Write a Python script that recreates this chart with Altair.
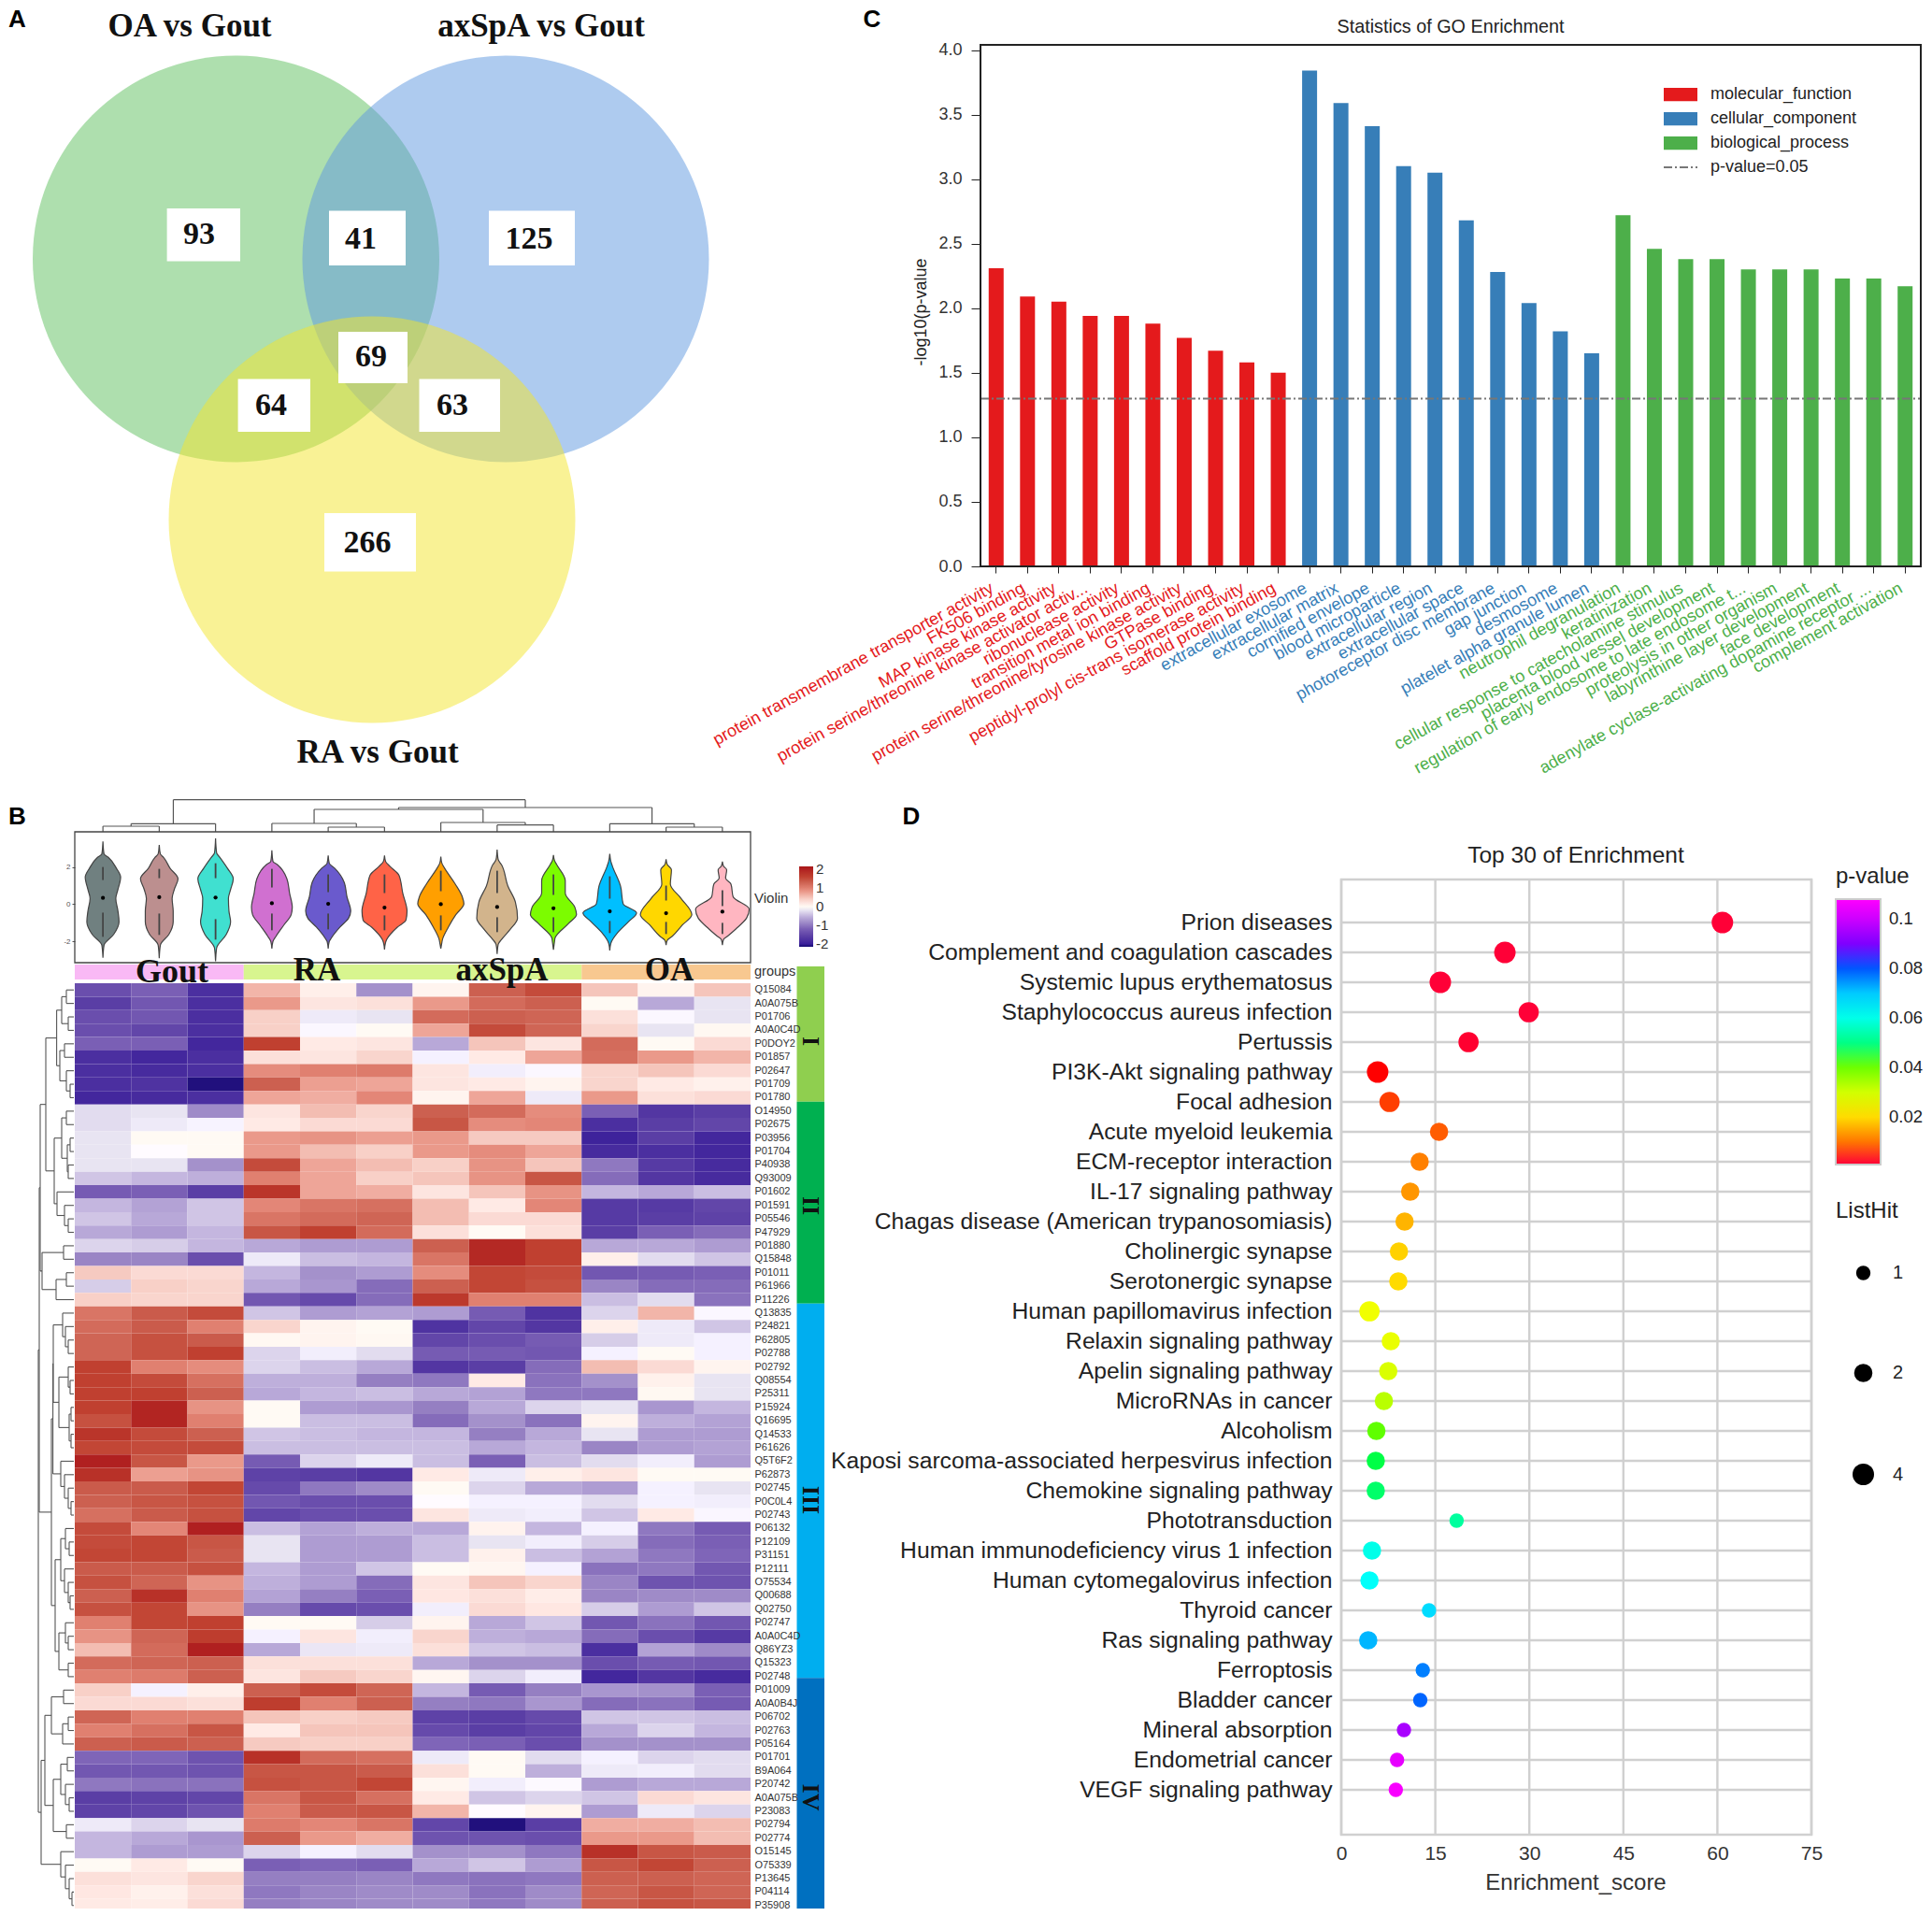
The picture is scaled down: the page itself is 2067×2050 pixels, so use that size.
import json
import altair as alt
import pandas as pd

W, H = 2051, 2034
SANS = "Liberation Sans"
SERIF = "Liberation Serif"

# ---------- A: Venn ----------
venn_sets = ["OA vs Gout", "axSpA vs Gout", "RA vs Gout"]
venn_cx = [252.5, 541, 398]
venn_cy = [277, 277, 556]
venn_colors = ["#5dbf5d", "#5d97df", "#f3e52b"]
venn_counts = [93, 41, 125, 69, 64, 63, 266]

# ---------- C: GO bars ----------
go_mf = ["protein transmembrane transporter activity", "FK506 binding", "MAP kinase kinase activity",
         "protein serine/threonine kinase activator activ...", "ribonuclease activity", "transition metal ion binding",
         "protein serine/threonine/tyrosine kinase activity", "GTPase binding",
         "peptidyl-prolyl cis-trans isomerase activity", "scaffold protein binding"]
go_cc = ["extracellular exosome", "extracellular matrix", "cornified envelope", "blood microparticle",
         "extracellular region", "extracellular space", "photoreceptor disc membrane", "gap junction",
         "desmosome", "platelet alpha granule lumen"]
go_bp = ["neutrophil degranulation", "keratinization", "cellular response to catecholamine stimulus",
         "placenta blood vessel development", "regulation of early endosome to late endosome t...",
         "proteolysis in other organism", "labyrinthine layer development", "face development",
         "adenylate cyclase-activating dopamine receptor ...", "complement activation"]
go_mf_v = [2.31, 2.09, 2.05, 1.94, 1.94, 1.88, 1.77, 1.67, 1.58, 1.50]
go_cc_v = [3.84, 3.59, 3.41, 3.10, 3.05, 2.68, 2.28, 2.04, 1.82, 1.65]
go_bp_v = [2.72, 2.46, 2.38, 2.38, 2.30, 2.30, 2.30, 2.23, 2.23, 2.17]
go_groups = ["molecular_function", "cellular_component", "biological_process"]
go_colors = ["#e41a1c", "#377eb8", "#4daf4a"]

# ---------- D: KEGG dots ----------
kegg_names = ["Prion diseases", "Complement and coagulation cascades", "Systemic lupus erythematosus",
              "Staphylococcus aureus infection", "Pertussis", "PI3K-Akt signaling pathway", "Focal adhesion",
              "Acute myeloid leukemia", "ECM-receptor interaction", "IL-17 signaling pathway",
              "Chagas disease (American trypanosomiasis)", "Cholinergic synapse", "Serotonergic synapse",
              "Human papillomavirus infection", "Relaxin signaling pathway", "Apelin signaling pathway",
              "MicroRNAs in cancer", "Alcoholism", "Kaposi sarcoma-associated herpesvirus infection",
              "Chemokine signaling pathway", "Phototransduction", "Human immunodeficiency virus 1 infection",
              "Human cytomegalovirus infection", "Thyroid cancer", "Ras signaling pathway", "Ferroptosis",
              "Bladder cancer", "Mineral absorption", "Endometrial cancer", "VEGF signaling pathway"]
kegg_score = [60.8, 26.1, 15.8, 29.9, 20.3, 5.8, 7.7, 15.6, 12.5, 11.0, 10.1, 9.2, 9.1, 4.5, 7.9,
              7.5, 6.8, 5.6, 5.5, 5.5, 18.4, 4.9, 4.5, 14.0, 4.3, 13.0, 12.6, 10.0, 8.9, 8.7]
kegg_p = [.001, .001, .001, .001, .0015, .004, .006, .008, .011, .013, .016, .019, .02, .026, .027,
          .029, .033, .041, .046, .048, .052, .06, .063, .068, .072, .077, .079, .095, .104, .107]
kegg_hit = [4, 4, 4, 3, 3, 4, 3, 2, 2, 2, 2, 2, 2, 3, 2, 2, 2, 2, 2, 2, 1, 2, 2, 1, 2, 1, 1, 1, 1, 1]
p_stops = [.0009, .004, .024, .044, .064, .083, .108]
p_colors = ["#ff0038", "#ff0000", "#ffff00", "#00ff00", "#00ffff", "#0000ff", "#ff00ff"]

# ---------- B: heatmap ----------
col_names = ["Gout1", "Gout2", "Gout3", "RA1", "RA2", "RA3", "axSpA1", "axSpA2", "axSpA3", "OA1", "OA2", "OA3"]
row_names = ["Q15084", "A0A075B", "P01706", "A0A0C4D", "P0DOY2", "P01857", "P02647", "P01709", "P01780",
             "O14950", "P02675", "P03956", "P01704", "P40938", "Q93009", "P01602", "P01591", "P05546", "P47929",
             "P01880", "Q15848", "P01011", "P61966", "P11226",
             "Q13835", "P24821", "P62805", "P02788", "P02792", "Q08554", "P25311", "P15924", "Q16695", "Q14533",
             "P61626", "Q5T6F2", "P62873", "P02745", "P0C0L4", "P02743", "P06132", "P12109", "P31151", "P12111",
             "O75534", "Q00688", "Q02750", "P02747", "A0A0C4D", "Q86YZ3", "Q15323", "P02748",
             "P01009", "A0A0B4J", "P06702", "P02763", "P05164", "P01701", "B9A064", "P20742", "A0A075B", "P23083",
             "P02794", "P02774", "O15145", "O75339", "P13645", "P04114", "P35908"]
heat_values = [
    [-1.4, -1.2, -1.8, .6, .1, -.8, .05, 1.3, 1.5, .5, .05, .5],
    [-1.6, -1.3, -1.8, .8, .2, .25, .8, 1.2, 1.3, 0, -.6, -.2],
    [-1.4, -1.3, -1.8, .4, -.15, -.2, 1.2, 1.3, 1.25, .25, -.05, -.2],
    [-1.4, -1.5, -1.8, .4, -.05, 0, .7, 1.5, 1.25, .35, -.2, .02],
    [-1.2, -1.2, -1.9, 1.6, .15, .2, -.6, .5, .2, 1.2, 0, .3],
    [-1.8, -1.9, -1.8, .25, .2, .35, -.1, .15, .7, 1.15, .8, .6],
    [-1.8, -1.85, -1.8, .9, 1.0, 1.05, .2, -.12, -.05, .35, .5, .3],
    [-1.8, -1.75, -2.1, 1.3, .75, .7, .2, .15, .05, .35, .15, .08],
    [-1.9, -1.85, -1.8, .7, .65, .95, .05, .7, -.15, .8, .25, .3],
    [-.25, -.2, -.85, .2, .55, .35, 1.3, 1.2, .9, -1.2, -1.7, -1.6],
    [-.25, -.15, -.08, .15, .3, .3, 1.4, .9, .95, -1.8, -1.6, -1.5],
    [-.2, 0, 0, .8, .85, .75, .8, .45, .45, -1.95, -1.6, -1.9],
    [-.2, -.02, 0, .8, .55, .4, .8, .9, .7, -1.85, -1.8, -1.9],
    [-.2, -.2, -.8, 1.5, .7, .55, .4, .85, .5, -1, -1.65, -1.85],
    [-.4, -.5, -.55, 1.0, .7, .4, .5, .85, 1.4, -1.1, -1.7, -1.85],
    [-1.25, -1.2, -1.6, 1.75, .7, .65, .2, .5, .85, -.5, -.6, -.45],
    [-.5, -.65, -.4, .95, 1.1, 1.15, .55, .15, .95, -1.65, -1.65, -1.5],
    [-.4, -.6, -.4, 1.1, 1.2, 1.25, .55, .3, .3, -1.65, -1.6, -1.55],
    [-.6, -.7, -.5, 1.4, 1.6, 1.2, .25, 0, .25, -1.6, -1.2, -1.1],
    [-.3, -.35, -.5, -.6, -.7, -.7, 1.3, 1.9, 1.6, -.6, -.6, -.7],
    [-.9, -.9, -1.4, -.15, -.45, -.5, 1.1, 1.9, 1.6, .1, -.25, -.4],
    [.45, .3, .3, -.5, -.8, -.7, .9, 1.55, 1.5, -1.3, -1.25, -1.2],
    [-.35, .4, .35, -.6, -.75, -1.1, 1.3, 1.55, 1.45, -.9, -1.1, -1.1],
    [.4, .35, .35, -1.3, -1.45, -1.1, 1.7, 1.0, 1.0, -.45, -.25, -1.05],
    [1.1, 1.35, 1.5, -.4, -.7, -.65, -.7, -1.25, -1.75, -.3, .6, -.05],
    [1.2, 1.35, 1.0, .35, .05, 0, -1.75, -1.5, -1.7, .1, -.15, -.4],
    [1.25, 1.45, 1.35, .02, .05, .02, -1.5, -1.4, -1.25, -.35, -.15, -.1],
    [1.25, 1.45, 1.6, -.3, -.12, -.25, -1.25, -1.25, -1.3, -.1, 0, -.1],
    [1.6, 1.0, .9, -.3, -.45, -.6, -1.7, -1.6, -1.1, .55, .3, .05],
    [1.6, 1.5, 1.15, -.55, -.55, -.95, -1, .15, -1.05, -.8, .08, -.2],
    [1.6, 1.6, 1.3, -.6, -.5, -.45, -.6, -.65, -1.0, -1, .02, -.2],
    [1.6, 1.95, .85, 0, -.7, -.75, -.95, -.6, -.3, -.2, -.75, -.5],
    [1.45, 1.95, 1.0, 0, -.45, -.45, -1.1, -.8, -1.05, .05, -.55, -.65],
    [1.75, 1.5, 1.3, -.4, -.45, -.5, -.5, -.95, -.6, -.2, -.7, -.7],
    [1.55, 1.5, 1.5, -.45, -.45, -.45, -.45, -.6, -.5, -.9, -.7, -.65],
    [2, 1.4, .8, -1.25, -.3, -.15, -.45, -1.2, -.45, -.25, -.12, -.7],
    [1.8, .75, .85, -1.55, -1.6, -1.7, .15, -.15, .1, .2, 0, 0],
    [1.35, 1.35, 1.55, -1.45, -1.0, -.85, 0, -.3, -.6, -.7, -.1, -.2],
    [1.3, 1.4, 1.45, -1.3, -1.4, -1.4, -.02, -.1, -.1, -.25, -.1, -.12],
    [1.15, 1.35, 1.45, -1.5, -1.4, -1.4, .2, -.15, -.12, -.4, .15, -.06],
    [1.5, .95, 2, -.45, -.65, -.55, -.6, .06, -.5, -.1, -1.0, -1.25],
    [1.5, 1.55, 1.4, -.2, -.7, -.7, -.45, -.2, -.12, -.35, -1.1, -1.2],
    [1.55, 1.55, 1.35, -.2, -.7, -.7, -.45, .08, -.45, -.65, -1.0, -1.15],
    [1.35, 1.35, 1.45, -.5, -.7, -.4, 0, .03, -.1, -1.05, -1.0, -1.3],
    [1.45, 1.25, .85, -.55, -.7, -1.1, .2, .5, .35, -.9, -1.35, -1.35],
    [1.3, 1.8, 1.0, -.65, -.95, -1.2, .18, .25, .12, -.9, -.85, -.85],
    [1.45, 1.55, .85, -.95, -1.45, -1.4, -.12, .3, .18, -.35, -.7, -.4],
    [1.0, 1.55, 1.6, 0, 0, -.35, .05, -.6, -.4, -1.3, -1.05, -1.3],
    [.85, 1.25, 1.65, -.1, .2, -.12, .35, -.55, -.6, -1.1, -1.4, -1.65],
    [.55, 1.2, 2, -.6, -.18, -.15, .25, -.4, -.45, -1.8, -.65, -.85],
    [1.2, 1.25, 1.3, .25, .25, .25, -.6, -.8, -.8, -1.4, -1.25, -1.3],
    [1.0, 1.05, 1.3, .2, .45, .35, .03, -.3, -.12, -1.9, -1.7, -1.85],
    [.4, -.1, .1, 1.3, 1.5, 1.25, -.5, -1.25, -.95, -.75, -.8, -1.2],
    [.3, .3, .25, 1.65, 1.0, 1.3, -.95, -1, -.75, -1.1, -1.05, -1.25],
    [1.25, 1.0, 1.0, .5, .4, .45, -1.55, -1.6, -1.45, -.4, -.4, -.45],
    [1.0, 1.15, 1.4, .15, .5, .5, -1.45, -1.6, -1.5, -.6, -.3, -.5],
    [1.3, 1.35, 1.3, .45, .4, .4, -1.15, -1.2, -1.4, -.8, -.8, -.8],
    [-1.15, -1.15, -1.35, 1.8, 1.2, 1.15, -.15, 0, -.25, -.1, -.3, -.25],
    [-1.3, -1.3, -1.35, 1.4, 1.4, 1.35, .25, 0, -.55, -.15, -.12, -.25],
    [-1, -1.05, -1.05, 1.45, 1.4, 1.55, .03, -.12, -.03, -.7, -.6, -.6],
    [-1.6, -1.55, -1.5, 1.1, 1.4, 1.15, .15, -.4, -.3, -.4, .3, .2],
    [-1.55, -1.5, -1.35, 1.0, 1.35, 1.4, .6, -.02, .05, -.7, -.15, -.3],
    [-.15, -.3, -.2, 1.05, .95, 1.1, -1.5, -2.1, -1.6, .65, .65, .55],
    [-.5, -.6, -.75, 1.3, .8, .65, -1.35, -1.35, -1.4, .8, .8, .55],
    [-.5, -.7, -.7, -.3, -.1, -.25, -.8, -.8, -1.0, 1.8, 1.4, 1.35],
    [0, .15, 0, -1.2, -1.15, -1.2, -.6, -.4, -.7, 1.4, 1.55, 1.3],
    [.25, .2, .35, -.95, -.95, -.9, -1.0, -1.05, -1.0, 1.3, 1.3, 1.25],
    [.18, .08, .25, -1.0, -.9, -.85, -.85, -1.05, -.85, 1.25, 1.4, 1.25],
    [.15, .12, .3, -.95, -.9, -.85, -.85, -1.0, -.85, 1.3, 1.45, 1.4],
]
heat_stops = [-2.15, -2, -1.6, -1.2, -.9, -.6, -.4, -.2, 0, .2, .5, .7, 1, 1.3, 1.6, 2, 2.15]
heat_colors = ["#12086f", "#3a1f9a", "#5a3ea5", "#7a5fb5", "#9a85c5", "#b8a8d8", "#d0c5e5", "#e8e4f2", "#ffffff",
               "#fde5e0", "#f5c5bb", "#eea598", "#e08070", "#cc6050", "#c04030", "#b02020", "#a81818"]

col_groups = ["Gout", "RA", "axSpA", "OA"]
strip_segs = [0, 3, 9, 12]
strip_colors = ["#f9b9f5", "#d8f58f", "#f8c890"]
cluster_names = ["I", "II", "III", "IV"]
cluster_edges = [-1.25, 8.8, 23.8, 51.6, 69.1]
cluster_colors = ["#8fcf4f", "#00b050", "#00aeef", "#0070c0"]

col_tree = [34.3, [8.7, [6, 0, 1], 2], [26, [24, [9, 3, [5, 4, 5]], [10, 6, [7.3, 7, 8]]], [8.7, 9, [5, 10, 11]]]]
row_tree = [38, [37, [36,
                      [30, [18.4, [13, [8, 0, 1], [6, 2, 3]], [15, [10, 4, 5], [8, 6, [4, 7, 8]]]],
                       [21, [13, [8, 9, 10], [7, [4, 11, 12], [6, 13, 14]]], [18, 15, [10, 16, [6, 17, 18]]]]],
                      [34, [11, 19, 20], [19, [8, 21, 22], 23]]],
                 [24, [22.4, [22, [12, 24, [9, 25, [6, 26, 27]]], [16, [6, 28, [4, 29, 30]], [5, [3, 31, 32], [3, 33, 34]]]],
                       [14, 35, [10, 36, [6, 37, [3, 38, 39]]]]],
                  [20, [14, [9, 40, [5, 41, 42]], [10, 43, [6, 44, [4, 45, 46]]]],
                   [16, [9, 47, [6, 48, 49]], [6, 50, 51]]]]],
            [35, [31, [24, [11, 52, 53], [12, [6, 54, 55], 56]], [22, [14, [7, 57, 58], [9, 59, [5, 60, 61]]], [8, 62, 63]]],
             [14, 64, [9, 65, [5, 66, [2, 67, 68]]]]]]

violin_colors = ["#708080", "#bc8f8f", "#40e0d0", "#d070d0", "#6a5acd", "#ff6347", "#ff9f00", "#d2b48c", "#7cfc00",
                 "#00bfff", "#ffd700", "#ffb6c1"]
# level on the violin axis, half width (1/105 of a column)
violin_levels = [
    [3.38, 2.7, 2.52, 1.94, 1.46, .79, .31, -.37, -.94, -1.62, -2.2, -2.87],
    [3.19, 2.7, 2.52, 1.94, 1.37, .79, .31, -.37, -.94, -1.62, -2.2, -2.9],
    [3.54, 2.75, 2.52, 1.94, 1.37, .79, .31, -.37, -.94, -1.62, -2.35, -3.06],
    [2.9, 2.3, 2.13, 1.37, .6, -.17, -.56, -1.13, -1.71, -2.0, -2.38],
    [2.62, 2.2, 1.94, 1.17, .4, -.37, -.75, -1.23, -1.81, -2.0, -2.38],
    [2.62, 2.3, 2.04, 1.56, .6, -.37, -.85, -1.23, -1.9, -2.05, -2.44],
    [2.56, 2.2, 1.94, 1.08, .4, .02, -.56, -1.23, -1.9, -2.05, -2.38],
    [2.94, 2.4, 2.13, .98, .12, -.75, -1.33, -1.9, -2.15, -2.67],
    [2.65, 2.35, 2.13, 1.27, .6, -.17, -.56, -1.04, -1.81, -2.0, -2.44],
    [2.71, 2.3, 2.04, .98, .02, -.46, -.94, -1.52, -2.1, -2.48],
    [2.42, 2.15, 1.85, 1.08, .31, -.56, -1.13, -1.71, -1.95, -2.19],
    [2.29, 2.05, 1.85, 1.4, 1.08, .4, -.27, -.75, -1.33, -1.71, -1.9, -2.19],
]
violin_widths = [
    [0, 2, 10, 25, 33, 28, 24, 28, 30, 20, 2, 0],
    [0, 2, 8, 20, 35, 28, 24, 26, 26, 18, 2, 0],
    [0, 2, 8, 22, 33, 28, 24, 25, 28, 20, 2, 0],
    [0, 2, 10, 28, 33, 38, 36, 22, 8, 2, 0],
    [0, 2, 12, 30, 35, 42, 38, 22, 6, 2, 0],
    [0, 2, 10, 27, 34, 42, 40, 24, 4, 2, 0],
    [0, 2, 7, 27, 40, 43, 28, 14, 3, 2, 0],
    [0, 2, 8, 20, 34, 38, 25, 8, 2, 0],
    [0, 2, 6, 22, 22, 40, 43, 28, 3, 2, 0],
    [0, 2, 5, 20, 25, 50, 35, 15, 2, 0],
    [0, 2, 10, 8, 28, 48, 30, 12, 2, 0],
    [0, 2, 8, 6, 16, 20, 50, 45, 25, 10, 2, 0],
]
violin_median = [.34, .38, .36, .05, .02, -.18, 0, -.15, -.22, -.38, -.48, -.4]
violin_up = [(2.0, 1.3), (1.9, 1.4), (2.2, 1.4), (1.9, .9), (1.6, .65), (1.6, .6), (1.8, .7), (1.8, .6), (1.6, .5),
             (1.5, .3), (1.0, .2), (.75, -.1)]
violin_low = [(-.45, -1.75), (-.5, -1.65), (-.8, -1.9), (-.5, -1.4), (-.5, -1.35), (-.6, -1.4), (-.6, -1.4),
              (-.7, -1.5), (-.7, -1.5), (-.9, -1.55), (-.95, -1.6), (-1.0, -1.6)]


# ---------- helpers ----------
def px(v):
    return v - 8


def one():
    return alt.Chart(pd.DataFrame({"k": [1]}))


def note(text, x, y, size=16, font=SANS, weight="normal", color="#222", align="center", angle=0):
    return alt.Chart(pd.DataFrame({"t": [text]})).mark_text(
        fontSize=size, font=font, fontWeight=weight, color=color, align=align, baseline="middle", angle=angle
    ).encode(x=alt.value(px(x)), y=alt.value(px(y)), text="t:N")


def box(x0, x1, y0, y1, **kw):
    return one().mark_rect(**kw).encode(x=alt.value(px(x0)), x2=alt.value(px(x1)), y=alt.value(px(y0)), y2=alt.value(px(y1)))


def lin(domain, a, b):
    return alt.Scale(domain=domain, range=[px(a), px(b)], nice=False, zero=False)


def segments(node, out):
    if not isinstance(node, list):
        return node + 0.5, 0
    h, a, b = node
    pa, ha = segments(a, out)
    pb, hb = segments(b, out)
    out.append({"p1": pa, "p2": pa, "h1": ha, "h2": h})
    out.append({"p1": pb, "p2": pb, "h1": hb, "h2": h})
    out.append({"p1": pa, "p2": pb, "h1": h, "h2": h})
    return (pa + pb) / 2, h


# ---------- A ----------
venn_df = pd.DataFrame({"set": venn_sets, "cx": venn_cx, "cy": venn_cy})
venn_x = lin([0, 2067], 0, 2067)
venn_y = lin([0, 2050], 0, 2050)
venn_circles = alt.Chart(venn_df).mark_circle(size=4 * 217.5 ** 2, opacity=0.5).encode(
    x=alt.X("cx:Q", scale=venn_x, axis=None),
    y=alt.Y("cy:Q", scale=venn_y, axis=None),
    color=alt.Color("set:N", scale=alt.Scale(domain=venn_sets, range=venn_colors), legend=None),
)
venn_boxes = [(178.6, 257, 223, 279.5, 213, 251), (352, 434, 225.5, 284, 386, 256), (523, 615, 225.5, 284, 566, 256),
              (362, 436, 355, 410, 397, 382), (254.6, 332, 405.5, 462, 290, 434), (448.5, 535, 405.5, 462, 484, 434),
              (347, 445, 549, 611.5, 393, 581)]
panel_a = [alt.layer(venn_circles)]
for n, b in zip(venn_counts, venn_boxes):
    panel_a.append(box(b[0], b[1], b[2], b[3], color="white"))
    panel_a.append(note(str(n), b[4], b[5], 34, SERIF, "bold", "#111"))
panel_a += [note("OA vs Gout", 203, 28, 35, SERIF, "bold", "#111"),
            note("axSpA vs Gout", 579, 28, 35, SERIF, "bold", "#111"),
            note("RA vs Gout", 404, 805, 35, SERIF, "bold", "#111")]

# ---------- C ----------
go_names = go_mf + go_cc + go_bp
go_df = pd.DataFrame({"term": go_names, "v": go_mf_v + go_cc_v + go_bp_v,
                      "group": [go_groups[0]] * 10 + [go_groups[1]] * 10 + [go_groups[2]] * 10})
c_x = alt.Scale(domain=go_names, range=[px(1049), px(2055)], paddingInner=0, paddingOuter=0)
c_y = lin([0, 4.04], 606, 48)
label_color = (f"indexof({json.dumps(go_mf)}, datum.value) >= 0 ? '{go_colors[0]}' : "
               f"indexof({json.dumps(go_cc)}, datum.value) >= 0 ? '{go_colors[1]}' : '{go_colors[2]}'")
c_y_axis = alt.Axis(orient="left", offset=-px(1049), values=[0, .5, 1, 1.5, 2, 2.5, 3, 3.5, 4], format=".1f",
                    labelFontSize=18, labelFont=SANS, labelColor="#333", tickSize=10, tickColor="#222",
                    domain=False, grid=False, labelPadding=10, title=None)
c_bars = alt.Chart(go_df).mark_bar(width=16).encode(
    x=alt.X("term:N", scale=c_x, sort=None, title=None,
            axis=alt.Axis(orient="bottom", offset=px(606) - H, labelAngle=331, labelAlign="right", labelBaseline="middle",
                          labelFontSize=18.1, labelFont=SANS, labelLimit=800, labelColor=alt.expr(label_color),
                          labelOverlap=False, tickSize=7, tickColor="#222", domain=False, labelPadding=15, labelOffset=-4)),
    y=alt.Y("v:Q", scale=c_y, title=None, axis=c_y_axis),
    color=alt.Color("group:N", scale=alt.Scale(domain=go_groups, range=go_colors),
                    legend=alt.Legend(orient="none", legendX=px(1780), legendY=px(94), title=None,
                                      symbolType="M-1,-0.4H1V0.4H-1Z", symbolSize=1296, symbolStrokeWidth=0,
                                      clipHeight=14, labelFontSize=18, labelFont=SANS, labelColor="#222",
                                      rowPadding=8, labelOffset=14)),
)
c_line = alt.Chart(pd.DataFrame({"p": [1.3]})).mark_rule(color="#777", strokeWidth=2, strokeDash=[9, 3, 2, 3]).encode(
    y=alt.Y("p:Q", scale=c_y, title=None, axis=c_y_axis), x=alt.value(px(1049)), x2=alt.value(px(2055)))
panel_c = [
    alt.layer(c_bars, c_line),
    box(1049, 2055, 48, 606, filled=False, stroke="#222", strokeWidth=2),
    note("Statistics of GO Enrichment", 1552, 29, 19.8),
    note("-log10(p-value", 986, 334, 18, angle=270),
    one().mark_rule(color="#777", strokeWidth=2, strokeDash=[9, 3, 2, 3]).encode(
        x=alt.value(px(1780)), x2=alt.value(px(1816)), y=alt.value(px(179)), y2=alt.value(px(179))),
    note("p-value=0.05", 1830, 179, 18, align="left"),
]

# ---------- D ----------
kegg_df = pd.DataFrame({"name": kegg_names, "score": kegg_score, "p": kegg_p, "hit": kegg_hit})
d_ticks = [0, 15, 30, 45, 60, 75]
d_x = lin([0, 75], 1435, 1938)
d_y = alt.Scale(type="point", domain=kegg_names, range=[px(987), px(1915)], padding=0)
d_x_axis = alt.Axis(orient="bottom", offset=px(1963) - H, values=d_ticks, labelFontSize=21, labelFont=SANS,
                    labelColor="#333", tickSize=0, domain=False, grid=False, labelPadding=9, title=None, labelFlush=False)
d_y_axis = alt.Axis(orient="left", offset=-px(1435), labelFontSize=24.7, labelFont=SANS, labelColor="#222", tickSize=0,
                    domain=False, grid=False, labelLimit=900, labelPadding=10, labelOverlap=False, title=None)
d_vgrid = alt.Chart(pd.DataFrame({"t": d_ticks})).mark_rule(color="#d0d0d0", strokeWidth=2.4).encode(
    x=alt.X("t:Q", scale=d_x, title=None, axis=d_x_axis),
    y=alt.value(px(941)), y2=alt.value(px(1963)))
d_hgrid = alt.Chart(kegg_df).mark_rule(color="#d0d0d0", strokeWidth=2.4).encode(
    y=alt.Y("name:N", scale=d_y, sort=None, title=None, axis=d_y_axis),
    x=alt.value(px(1435)), x2=alt.value(px(1938)))
d_pts = alt.Chart(kegg_df).mark_circle(opacity=1).encode(
    x=alt.X("score:Q", scale=d_x, title=None, axis=d_x_axis),
    y=alt.Y("name:N", scale=d_y, sort=None, title=None, axis=d_y_axis),
    color=alt.Color("p:Q", scale=alt.Scale(domain=p_stops, range=p_colors, nice=False, zero=False),
                    legend=alt.Legend(orient="none", legendX=px(1964), legendY=px(926), title="p-value", titleFontSize=24,
                                      titleFont=SANS, titleFontWeight="normal", titleColor="#222", titlePadding=12,
                                      gradientLength=284, gradientThickness=48, gradientStrokeColor="#ccc",
                                      gradientStrokeWidth=2, values=[.02, .04, .06, .08, .1], format="~g",
                                      labelFontSize=18.5, labelFont=SANS, labelColor="#222", labelOffset=9)),
    size=alt.Size("hit:Q", scale=alt.Scale(type="log", base=2, domain=[1, 4], range=[237, 529]),
                  legend=alt.Legend(orient="none", legendX=px(1964), legendY=px(1284), title="ListHit", titleFontSize=24,
                                    titleFont=SANS, titleFontWeight="normal", titleColor="#222", titlePadding=44,
                                    values=[1, 2, 4], format="d", symbolFillColor="black", symbolStrokeWidth=0,
                                    symbolOpacity=1, labelFontSize=20, labelFont=SANS, labelColor="#222",
                                    rowPadding=87, symbolOffset=18, labelOffset=20)),
)
panel_d = [
    alt.layer(d_vgrid, d_hgrid, d_pts),
    box(1435, 1938, 941, 1963, filled=False, stroke="#d0d0d0", strokeWidth=2.6),
    note("Top 30 of  Enrichment", 1686, 916, 24.5, color="#222"),
    note("Enrichment_score", 1686, 2015, 24, color="#333"),
]

# ---------- B ----------
heat_df = pd.DataFrame([{"row": r, "col": col_names[c], "v": heat_values[r][c]}
                        for r in range(len(row_names)) for c in range(len(col_names))])
heat = alt.Chart(heat_df).mark_rect().encode(
    x=alt.X("col:N", sort=None, axis=None,
            scale=alt.Scale(domain=col_names, range=[px(80), px(803)], paddingInner=0, paddingOuter=0)),
    y=alt.Y("row:O", title=None,
            scale=alt.Scale(domain=list(range(len(row_names))), range=[px(1052), px(2046)], paddingInner=0, paddingOuter=0),
            axis=alt.Axis(orient="right", offset=px(803) - W, labelFontSize=11, labelFont=SANS, labelColor="#333", tickSize=0,
                          domain=False, labelOverlap=False, labelPadding=4, labelAngle=0,
                          labelExpr=f"{json.dumps(row_names)}[datum.value]")),
    color=alt.Color("v:Q", scale=alt.Scale(domain=heat_stops, range=heat_colors, nice=False, zero=False),
                    legend=alt.Legend(orient="none", legendX=px(855), legendY=px(927), title=None, gradientLength=86,
                                      gradientThickness=15, values=[-2, -1, 0, 1, 2], labelExpr="datum.value + ''",
                                      labelFontSize=15, labelFont=SANS, labelColor="#333", labelOffset=3)),
)

col_x = lin([0, 12], 80, 803)
col_segs = []
segments(col_tree, col_segs)
col_dendro = alt.Chart(pd.DataFrame(col_segs)).mark_rule(color="#555", strokeWidth=1.2).encode(
    x=alt.X("p1:Q", scale=col_x, axis=None), x2="p2:Q",
    y=alt.Y("h1:Q", scale=lin([0, 35], 890, 855), axis=None), y2="h2:Q")
row_segs = []
segments(row_tree, row_segs)
row_dendro = alt.Chart(pd.DataFrame(row_segs)).mark_rule(color="#555", strokeWidth=1.1).encode(
    x=alt.X("h1:Q", scale=lin([0, 38], 79, 41), axis=None), x2="h2:Q",
    y=alt.Y("p1:Q", scale=lin([0, 69], 1052, 2046), axis=None), y2="p2:Q")

v_y = lin([-3.14, 3.89], 1030, 890)
v_axis = alt.Axis(orient="left", offset=-px(80), values=[-2, 0, 2], labelFontSize=8, labelColor="#555", tickSize=3,
                  tickColor="#555", domain=False, grid=False, labelPadding=2, title=None,
                  labelExpr="datum.value + ''")
v_rows = []
for i, (lv, wd) in enumerate(zip(violin_levels, violin_widths)):
    for l, w in zip(lv, wd):
        v_rows.append({"violin": col_names[i], "v": l, "lo": i + .5 - w / 105, "hi": i + .5 + w / 105})
violin_df = pd.DataFrame(v_rows)
vio_area = alt.Chart(violin_df).mark_area(orient="horizontal", interpolate="monotone", stroke="#444", strokeWidth=1.2,
                                          opacity=1).encode(
    y=alt.Y("v:Q", scale=v_y, title=None, axis=v_axis),
    x=alt.X("lo:Q", scale=col_x, axis=None), x2="hi:Q",
    color=alt.Color("violin:N", scale=alt.Scale(domain=col_names, range=violin_colors), legend=None),
)
wh_rows = [{"c": i + .5, "a": a, "b": b} for i in range(12) for a, b in (violin_up[i], violin_low[i])]
vio_whisk = alt.Chart(pd.DataFrame(wh_rows)).mark_rule(color="#444", strokeWidth=1.8).encode(
    x=alt.X("c:Q", scale=col_x, axis=None), y=alt.Y("a:Q", scale=v_y, title=None, axis=v_axis), y2="b:Q")
vio_med = alt.Chart(pd.DataFrame({"c": [i + .5 for i in range(12)], "m": violin_median})).mark_circle(
    size=18, color="black", opacity=1).encode(
    x=alt.X("c:Q", scale=col_x, axis=None), y=alt.Y("m:Q", scale=v_y, title=None, axis=v_axis))

strip_df = pd.DataFrame({"s": strip_segs[:-1], "e": strip_segs[1:], "c": strip_colors})
strip = alt.Chart(strip_df).mark_rect().encode(
    x=alt.X("s:Q", scale=col_x, axis=None), x2="e:Q",
    y=alt.value(px(1032)), y2=alt.value(px(1048)),
    color=alt.Color("c:N", scale=None, legend=None))
cluster_df = pd.DataFrame({"n": cluster_names, "s": cluster_edges[:-1], "e": cluster_edges[1:]})
cluster = alt.Chart(cluster_df).mark_rect().encode(
    y=alt.Y("s:Q", scale=lin([0, 69], 1052, 2046), axis=None), y2="e:Q",
    x=alt.value(px(852.5)), x2=alt.value(px(882)),
    color=alt.Color("n:N", scale=alt.Scale(domain=cluster_names, range=cluster_colors), legend=None))

panel_b = [
    heat, col_dendro, row_dendro,
    alt.layer(vio_area, vio_whisk, vio_med),
    box(80, 803, 890, 1030, filled=False, stroke="#444", strokeWidth=1.3),
    strip,
    note("groups", 807, 1040, 14.5, align="left", color="#333"),
    cluster,
    note(col_groups[0], 184, 1040, 36, SERIF, "bold", "#111"),
    note(col_groups[1], 339, 1038, 35, SERIF, "bold", "#111"),
    note(col_groups[2], 537, 1038, 35, SERIF, "bold", "#111"),
    note(col_groups[3], 716, 1038, 35, SERIF, "bold", "#111"),
    note("Violin", 807, 961, 15, align="left", color="#333"),
    note(cluster_names[0], 867, 1114, 26, SERIF, "bold", "#111", angle=90),
    note(cluster_names[1], 867, 1290, 26, SERIF, "bold", "#111", angle=90),
    note(cluster_names[2], 867, 1605, 26, SERIF, "bold", "#111", angle=90),
    note(cluster_names[3], 867, 1923, 26, SERIF, "bold", "#111", angle=90),
]

letters = [note("A", 9, 21, 26, SANS, "bold", "#000", align="left"), note("B", 9, 874, 26, SANS, "bold", "#000", align="left"),
           note("C", 933, 21, 26, SANS, "bold", "#000"), note("D", 975, 874, 26, SANS, "bold", "#000")]

chart = alt.layer(*panel_a, *panel_c, *panel_d, *panel_b, *letters).resolve_scale(
    x="independent", y="independent", color="independent", size="independent"
).resolve_axis(x="independent", y="independent").resolve_legend(color="independent", size="independent").properties(
    width=W, height=H, padding=0, autosize=alt.AutoSizeParams(type="none"), background="white"
).configure_view(stroke=None)

chart.save("out.html", embed_options={"renderer": "svg", "actions": False})
